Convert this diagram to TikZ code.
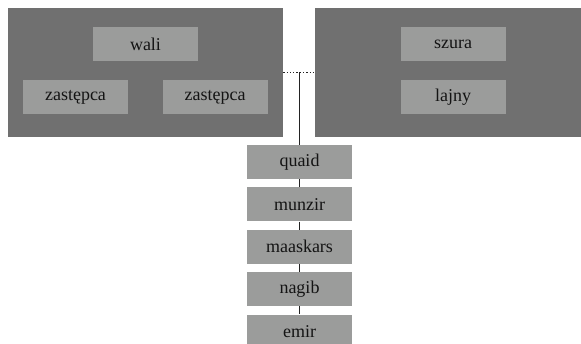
\documentclass[tikz,border=0pt]{standalone}
\usepackage{fontspec}
\setmainfont{Liberation Serif}
\usepackage{tikz}
\usetikzlibrary{positioning}
\usepackage{xcolor}
\definecolor{orgdark}{RGB}{112,112,112}
\definecolor{orglight}{RGB}{155,156,155}
\definecolor{orgtext}{RGB}{20,20,20}
\definecolor{orgline}{RGB}{35,35,35}
\tikzstyle{panel} = [rectangle, inner sep=0pt, fill=orgdark]
\tikzstyle{rank} = [rectangle, inner sep=0pt, minimum width=105pt, minimum height=34pt, fill=orglight, text=orgtext, font=\fontsize{18}{20}\selectfont]
\tikzstyle{link} = [line width=1.5pt, color=orgline]

\begin{document}
\begin{tikzpicture}[x=1pt,y=-1pt]
\useasboundingbox (0,0) rectangle (581,344);
% Panels
\node (court) [panel, minimum width=275pt, minimum height=129pt] at (145.5,72.5) {};
\node (council) [panel, minimum width=266pt, minimum height=129pt, anchor=west] at (315,72.5) {};

% Court members
\node (wali) [rank] at (145.5,44) {wali};
\node (deputyA) [rank] at (75.5,97) {zastępca};
\node (deputyB) [rank] at (215,97) {zastępca};

% Council members
\node (shura) [rank] at (453,44) {szura};
\node (lines) [rank] at (453,97) {lajny};

% Chain of ranks
\node (quaid) [rank] at (299.5,162) {quaid};
\node (munzir) [rank, below=8pt of quaid] {munzir};
\node (maaskars) [rank, below=8pt of munzir] {maaskars};
\node (nagib) [rank, below=8pt of maaskars] {nagib};
\node (emir) [rank, below=8pt of nagib] {emir};

% Links
\draw[dotted, line width=1.3pt, color=orgline] (court.east) -- (council.west);
\coordinate (joint) at (299.5,72.5);
\draw[link] (joint) -- (quaid.north);
\draw[link] (quaid) -- (munzir);
\draw[link] (munzir) -- (maaskars);
\draw[link] (maaskars) -- (nagib);
\draw[link] (nagib) -- (emir);
\end{tikzpicture}
\end{document}
